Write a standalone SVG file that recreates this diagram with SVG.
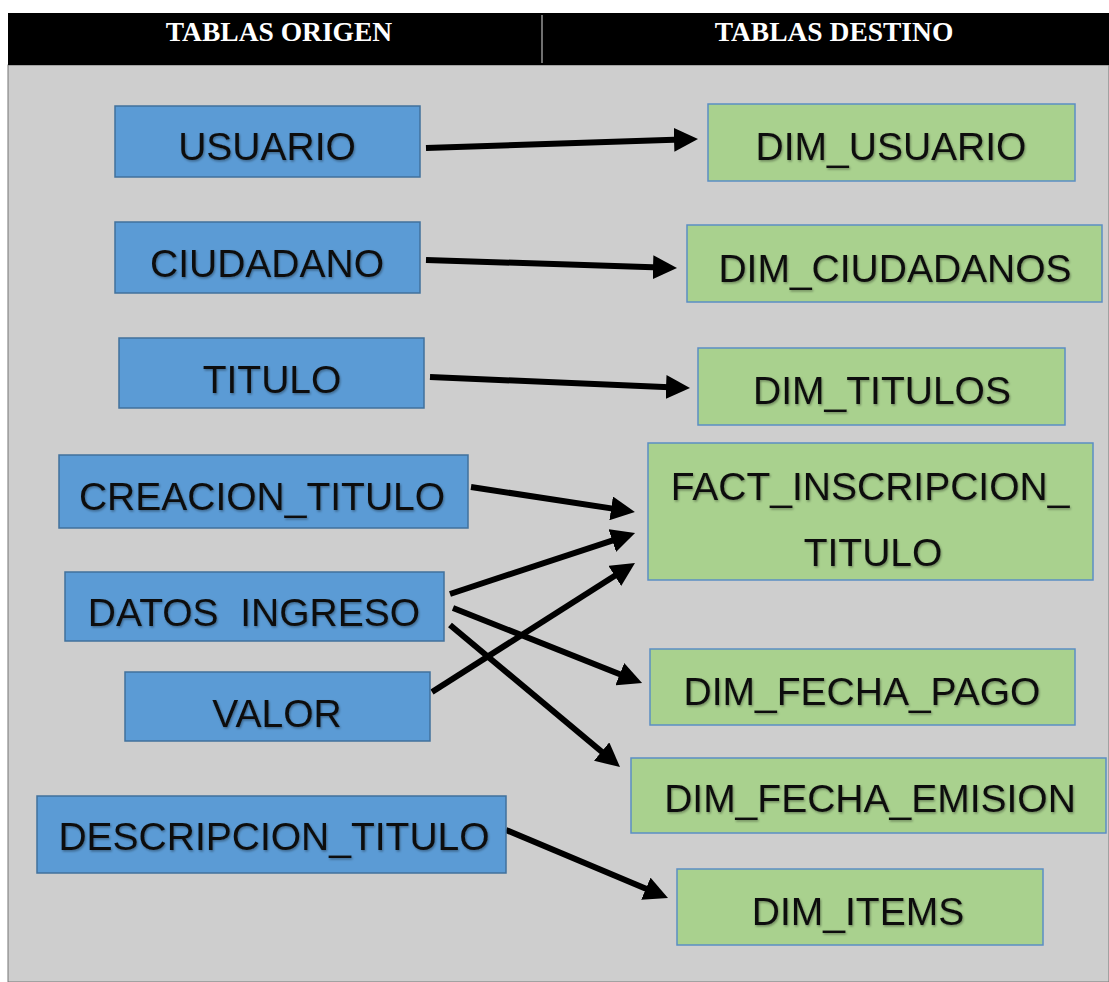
<svg xmlns="http://www.w3.org/2000/svg" width="1109" height="982" viewBox="0 0 1109 982">
<defs>
<style>
.src{fill:#5B9BD5;stroke:#41719C;stroke-width:1.5}
.dst{fill:#A9D18E;stroke:#5B8EC4;stroke-width:1.5}
.lbl{font-family:"Liberation Sans",Arial,sans-serif;font-size:39px;fill:#111;text-anchor:middle;filter:url(#sh)}
.hdr{font-family:"Liberation Serif","Times New Roman",serif;font-size:27.5px;font-weight:bold;fill:#fff;text-anchor:middle}
.con line{stroke:#000;stroke-width:6;marker-end:url(#ah)}
</style>
<filter id="sh" x="-5%" y="-20%" width="110%" height="140%">
<feDropShadow dx="1" dy="1.5" stdDeviation="1" flood-color="#000" flood-opacity="0.35"/>
</filter>
<marker id="ah" markerUnits="userSpaceOnUse" markerWidth="24" markerHeight="24" refX="15" refY="12" orient="auto">
<path d="M0,0 L24,12 L0,24 z" fill="#000"/>
</marker>
</defs>
<rect x="0" y="0" width="1109" height="982" fill="#fff"/>
<rect x="8" y="65" width="1101" height="917" fill="#CECECE" stroke="#777" stroke-width="1"/>
<g id="header">
<rect x="8" y="13" width="1101" height="52" fill="#000"/>
<line x1="542" y1="15" x2="542" y2="63" stroke="#bbb" stroke-width="1.2"/>
<text class="hdr" x="279" y="41">TABLAS ORIGEN</text>
<text class="hdr" x="834" y="41">TABLAS DESTINO</text>
</g>
<g class="con" id="connectors">
<line x1="426" y1="148" x2="689" y2="139.3"/>
<line x1="426" y1="260" x2="668" y2="267.7"/>
<line x1="430" y1="377" x2="681" y2="387.7"/>
<line x1="471" y1="487" x2="626" y2="510.6"/>
<line x1="450" y1="594" x2="626.5" y2="535.8"/>
<line x1="432" y1="692" x2="627.4" y2="567.8"/>
<line x1="453" y1="608" x2="633.7" y2="679.7"/>
<line x1="450" y1="625" x2="613.1" y2="761.2"/>
<line x1="506" y1="830" x2="659.7" y2="894.5"/>
</g>
<g id="usuario"><rect class="src" x="115" y="106" width="305" height="71"/><text class="lbl" x="267" y="160">USUARIO</text></g>
<g id="ciudadano"><rect class="src" x="115" y="222" width="305" height="71"/><text class="lbl" x="267" y="277">CIUDADANO</text></g>
<g id="titulo"><rect class="src" x="119" y="338" width="305" height="70"/><text class="lbl" x="272" y="393">TITULO</text></g>
<g id="creacion_titulo"><rect class="src" x="59" y="455" width="409" height="73"/><text class="lbl" x="262" y="510">CREACION_TITULO</text></g>
<g id="datos_ingreso"><rect class="src" x="65" y="572" width="379" height="69"/><text class="lbl" x="254" y="626" xml:space="preserve">DATOS  INGRESO</text></g>
<g id="valor"><rect class="src" x="125" y="672" width="305" height="69"/><text class="lbl" x="277" y="727">VALOR</text></g>
<g id="descripcion_titulo"><rect class="src" x="37" y="796" width="469" height="77"/><text class="lbl" x="274" y="850">DESCRIPCION_TITULO</text></g>
<g id="dim_usuario"><rect class="dst" x="708" y="104" width="367" height="77"/><text class="lbl" x="891" y="160">DIM_USUARIO</text></g>
<g id="dim_ciudadanos"><rect class="dst" x="687" y="225" width="415" height="77"/><text class="lbl" x="895" y="282">DIM_CIUDADANOS</text></g>
<g id="dim_titulos"><rect class="dst" x="698" y="348" width="367" height="77"/><text class="lbl" x="882" y="404">DIM_TITULOS</text></g>
<g id="fact_inscripcion_titulo"><rect class="dst" x="648" y="443" width="445" height="137"/><text class="lbl" x="870" y="500">FACT_INSCRIPCION_</text><text class="lbl" x="873" y="566">TITULO</text></g>
<g id="dim_fecha_pago"><rect class="dst" x="650" y="649" width="425" height="76"/><text class="lbl" x="862" y="705">DIM_FECHA_PAGO</text></g>
<g id="dim_fecha_emision"><rect class="dst" x="631" y="758" width="475" height="75"/><text class="lbl" x="870" y="812">DIM_FECHA_EMISION</text></g>
<g id="dim_items"><rect class="dst" x="677" y="869" width="366" height="76"/><text class="lbl" x="858" y="925">DIM_ITEMS</text></g>
</svg>
